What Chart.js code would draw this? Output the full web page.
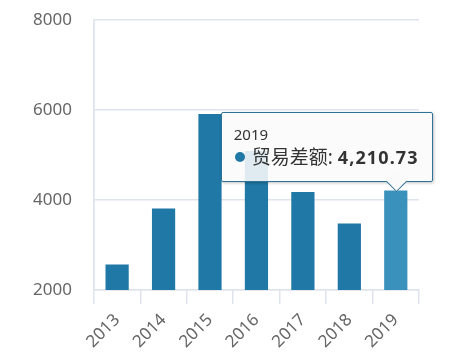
<!DOCTYPE html>
<html><head><meta charset="utf-8">
<script src="https://cdn.jsdelivr.net/npm/chart.js@4/dist/chart.umd.min.js"></script>
<style>
html,body{margin:0;padding:0;background:#fff;}
#wrap{position:relative;width:463px;height:361px;}
#tip{position:absolute;pointer-events:none;font-family:"Noto Sans","Noto Sans CJK SC",sans-serif;color:#333;}
#tip .box{position:relative;background:rgba(250,250,250,0.88);border:1px solid #2e7199;border-radius:2px;box-shadow:1px 1px 3px rgba(0,0,0,0.25);padding:11px 13px 10px 12px;white-space:nowrap;}
#tip .title{font-size:15px;line-height:20px;}
#tip .body{font-size:19px;line-height:27px;}
#tip .body b{letter-spacing:1.1px;font-size:18px;}
#tip .dot{display:inline-block;width:10px;height:10px;border-radius:50%;margin:0 7px 0 1px;vertical-align:2px;}
#tip .caret{position:absolute;width:14px;height:14px;background:rgba(250,250,250,1);border-right:1px solid #2e7199;border-bottom:1px solid #2e7199;transform:rotate(45deg);}
</style></head>
<body><div id="wrap"><canvas id="c" width="463" height="361"></canvas><div id="tip"></div></div>
<script>
const categories = ['2013','2014','2015','2016','2017','2018','2019'];
const seriesName = '贸易差额';
const values = [2570, 3810, 5910, 5090, 4180, 3480, 4210.73];
const yTicks = [2000, 4000, 6000, 8000];

const barColor = '#1f78a5';
const hoverColor = '#3a91bc';
const gridColor = '#dfe3ee';
const FONT = '"Noto Sans","Noto Sans CJK SC",sans-serif';

const activeIndex = 6;

function externalTooltip(context){
  const tt = context.tooltip;
  const el = document.getElementById('tip');
  if (tt.opacity === 0) { el.style.display='none'; return; }
  const i = tt.dataPoints[0].dataIndex;
  const v = tt.dataPoints[0].raw;
  el.innerHTML = '<div class="box"><div class="title">'+categories[i]+'</div>'+
    '<div class="body"><span class="dot" style="background:'+barColor+'"></span>'+seriesName+': <b>'+
    v.toLocaleString('en-US',{minimumFractionDigits:2,maximumFractionDigits:2})+'</b></div>'+
    '<div class="caret"></div></div>';
  el.style.display='block';
  const w = el.offsetWidth, h = el.offsetHeight;
  const cx = tt.caretX, cy = tt.caretY;
  const left = Math.min(cx - w + 37, context.chart.width - w - 2);
  const top = cy - h - 9;
  el.style.left = left + 'px';
  el.style.top = top + 'px';
  const caret = el.querySelector('.caret');
  caret.style.left = (cx - left - 8) + 'px';
  caret.style.bottom = '-8px';
}

const chart = new Chart(document.getElementById('c'), {
  type: 'bar',
  data: {
    labels: categories,
    datasets: [{
      label: seriesName,
      data: values,
      backgroundColor: values.map((v,i)=> i===activeIndex ? hoverColor : barColor),
      hoverBackgroundColor: hoverColor,
      barPercentage: 0.5,
      categoryPercentage: 1.0
    }]
  },
  options: {
    responsive: false,
    animation: false,
    events: [],
    layout: { padding: { left: 33, right: 44, top: 20, bottom: 3 } },
    plugins: {
      legend: { display: false },
      tooltip: { enabled: false, external: externalTooltip, mode: 'index', intersect: false }
    },
    scales: {
      x: {
        grid: {
          offset: true,
          drawOnChartArea: true,
          color: ctx => (ctx.index === 0 || ctx.index === categories.length) ? gridColor : 'rgba(0,0,0,0)',
          tickColor: gridColor,
          tickLength: 14,
          lineWidth: 1.5
        },
        border: { display: true, color: gridColor, width: 1.5 },
        ticks: { color: '#666', font: { family: FONT, size: 17 }, minRotation: 45, maxRotation: 45, padding: 6 }
      },
      y: {
        min: 2000, max: 8000,
        afterBuildTicks: axis => { axis.ticks = yTicks.map(v => ({ value: v })); },
        grid: { color: gridColor, drawTicks: true, tickLength: 22, tickColor: 'rgba(0,0,0,0)', lineWidth: 1.5 },
        border: { display: true, color: gridColor, width: 1.5 },
        ticks: { color: '#666', font: { family: FONT, size: 17 }, padding: 0, callback: v => String(v) }
      }
    }
  }
});

chart.tooltip.setActiveElements([{ datasetIndex: 0, index: activeIndex }], { x: 0, y: 0 });
chart.update();
</script>
</body></html>
